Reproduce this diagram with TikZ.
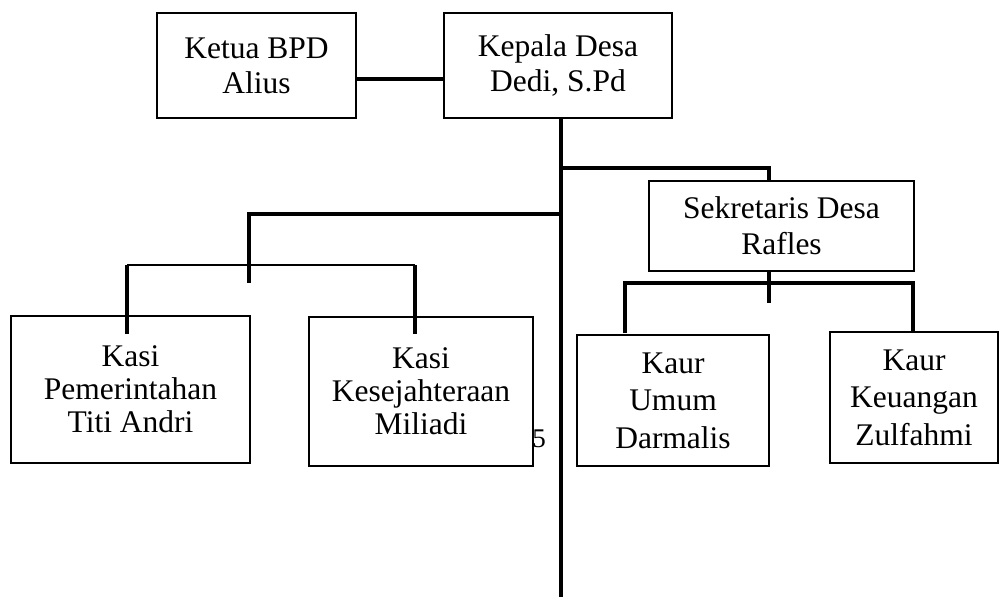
\documentclass[tikz,border=0pt]{standalone}
\usepackage{fontspec}
\setmainfont{Liberation Serif}
\begin{document}
\begin{tikzpicture}[x=1pt,y=-1pt,
  box/.style={draw=black, line width=1.4pt, inner sep=0pt, align=center, fill=none},
  fnt/.style={font=\fontsize{31.5}{#1}\selectfont},
  conn/.style={draw=black, line width=3.2pt, line join=miter},
  thinconn/.style={draw=black, line width=1.4pt}]
\useasboundingbox (0,0) rectangle (999,598);
% boxes
\node[box, fnt=35, minimum width=199pt, minimum height=105pt] (ketua) at (256.5,65.5) {Ketua BPD\\Alius};
\node[box, fnt=35, minimum width=228pt, minimum height=105pt] (kepala) at (558,65.5) {Kepala Desa\\Dedi, S.Pd};
\node[box, fnt=36, minimum width=265pt, minimum height=90pt] (sekdes) at (781.5,226) {Sekretaris Desa\\Rafles};
\node[box, fnt=33, minimum width=239pt, minimum height=147pt] (kasipem) at (130.5,389.5) {Kasi\\Pemerintahan\\Titi Andri};
\node[box, fnt=33, minimum width=224pt, minimum height=149pt] (kasikes) at (421,391.5) {Kasi\\Kesejahteraan\\Miliadi};
\node[box, fnt=37.5, minimum width=192pt, minimum height=131pt] (kaurumum) at (673,400.5) {Kaur\\Umum\\Darmalis};
\node[box, fnt=37.5, minimum width=168pt, minimum height=131pt] (kaurkeu) at (914,397.5) {Kaur\\Keuangan\\Zulfahmi};
\node[inner sep=0pt, font=\fontsize{27}{30}\selectfont] (pagenum) at (539,439) {5};
% coordinates
\coordinate (mtop) at (561,118);
\coordinate (mend) at (561,597);
\coordinate (jsek) at (561,168);
\coordinate (jleft) at (561,214);
\coordinate (lefte) at (249,283);
\coordinate (kl) at (127,265);
\coordinate (kr) at (415,265);
\coordinate (klend) at (127,334);
\coordinate (krend) at (415,334);
\coordinate (sekbot) at (769,271);
\coordinate (sekend) at (769,303);
\coordinate (ul) at (625,283);
\coordinate (ur) at (913,283);
\coordinate (ulend) at (625,333);
\coordinate (urend) at (913,332);
% connectors
\draw[conn] ([yshift=-13.5pt]ketua.east) -- ([yshift=-13.5pt]kepala.west);
\draw[conn] (mtop) -- (mend);
\draw[conn] (jsek) -| (sekdes.north -| sekbot);
\draw[conn] (jleft) -| (lefte);
\draw[thinconn] (kl) -- (kr);
\draw[conn] (kl) -- (klend);
\draw[conn] (kr) -- (krend);
\draw[conn] (sekbot) -- (sekend);
\draw[conn] (ulend) |- (ur) -- (urend);
\end{tikzpicture}
\end{document}
